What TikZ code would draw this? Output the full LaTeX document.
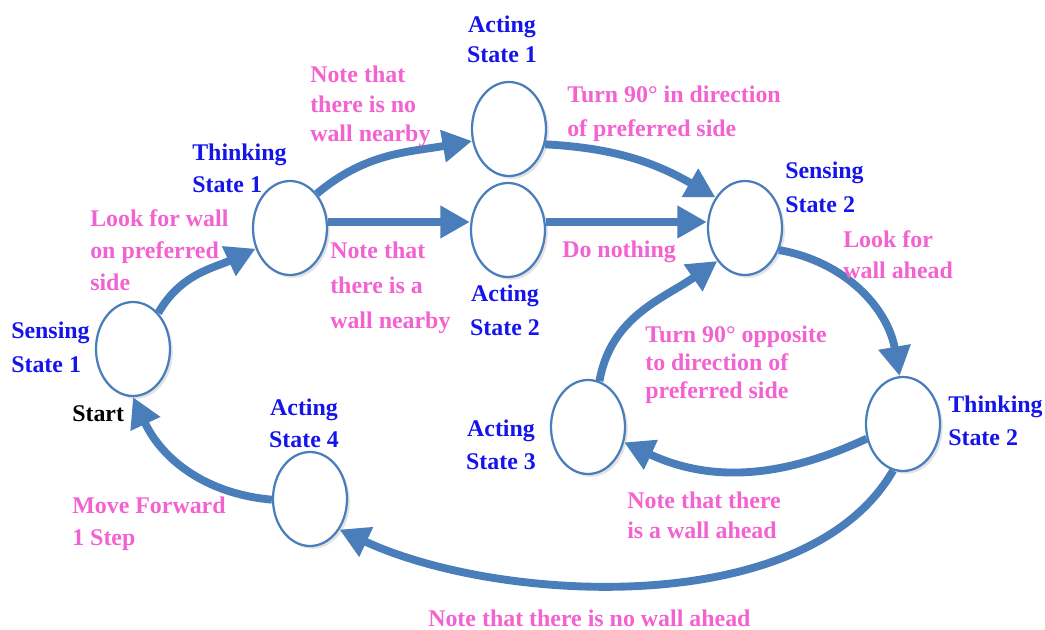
\documentclass[tikz,border=0pt]{standalone}
\usepackage{fontspec}
\setmainfont{Liberation Serif}
\usetikzlibrary{arrows.meta,shapes.geometric,shadows}

\definecolor{edgeblue}{RGB}{74,126,187}
\definecolor{stateblue}{RGB}{20,20,235}
\definecolor{notepink}{RGB}{242,98,208}

\tikzset{
  stnode/.style={ellipse, draw=edgeblue, line width=1.6pt, fill=white,
    minimum width=1.85cm, minimum height=2.35cm,
    drop shadow={opacity=0.22, shadow xshift=2pt, shadow yshift=-2pt}},
  flow/.style={draw=edgeblue, line width=5.6pt, -{Triangle[length=21pt,width=22pt]}},
  txt/.style={inner sep=0pt, align=left, anchor=base west,
    font=\bfseries\fontsize{17}{#1}\selectfont},
  txt/.default=23pt,
  stlabel/.style={txt=#1, text=stateblue},
  stlabel/.default=23pt,
  note/.style={txt=#1, text=notepink},
  note/.default=23pt
}

\begin{document}
\begin{tikzpicture}[x=0.025cm, y=0.025cm]
\useasboundingbox (0,0) rectangle (1045,-630);

% states
\node [stnode] (s1) at (133,-349) {};
\node [stnode] (t1) at (290,-228) {};
\node [stnode] (a1) at (509,-129) {};
\node [stnode] (a2) at (508,-230) {};
\node [stnode] (s2) at (745,-228) {};
\node [stnode] (t2) at (903,-424) {};
\node [stnode] (a3) at (588,-427) {};
\node [stnode] (a4) at (310,-499) {};

% transitions
\draw [flow] (s1.55) to [out=60, in=205] (t1.211);
\draw [flow] (t1.52) to [out=40, in=190] (a1.198);
\draw [flow] ([yshift=0.15cm]t1.east) -- ([yshift=0.2cm]a2.west);
\draw [flow] (a1.-23) to [out=-3, in=150] (s2.134);
\draw [flow] ([yshift=0.2cm]a2.east) -- ([yshift=0.15cm]s2.west);
\draw [flow] (s2.-33) to [out=-10, in=100] (t2.94);
\draw [flow] (t2.202) to [out=205, in=-25] (a3.-23);
\draw [flow] (a3.76) to [out=80, in=215] (s2.230);
\draw [flow] (t2.258) to [out=240, in=-25, looseness=0.8] (a4.-46);
\draw [flow] (a4.181) to [out=175, in=-65] (s1.270);

% state names (base = last line)
\node [stlabel=24pt] (s1name) at (11,-372) {Sensing\\State 1};
\node [txt] (start) at (72,-421) {Start};
\node [stlabel=23.4pt] (t1name) at (192,-193) {Thinking\\State 1};
\node [stlabel=22pt, align=center, anchor=base] (a1name) at (502,-63) {Acting\\State 1};
\node [stlabel=24pt] (s2name) at (785,-212) {Sensing\\State 2};
\node [stlabel=24pt, align=center, anchor=base] (a2name) at (505,-335) {Acting\\State 2};
\node [stlabel=23.4pt] (t2name) at (948,-445) {Thinking\\State 2};
\node [stlabel=23.4pt, align=center, anchor=base] (a3name) at (501,-469) {Acting\\State 3};
\node [stlabel=22.7pt, align=center, anchor=base] (a4name) at (304,-447) {Acting\\State 4};

% notes
\node [note=22.7pt] (lookside) at (90,-290) {Look for wall\\on preferred\\side};
\node [note=21.3pt] (nowall) at (310,-142) {Note that\\there is no\\wall nearby};
\node [note=24.5pt] (turnpref) at (567,-137) {Turn 90° in direction\\of preferred side};
\node [note=24.8pt] (wall) at (330,-328) {Note that\\there is a\\wall nearby};
\node [note] (nothing) at (562,-257) {Do nothing};
\node [note=22pt] (lookahead) at (843,-278) {Look for\\wall ahead};
\node [note=19.8pt] (turnopp) at (645,-398) {Turn 90° opposite\\to direction of\\preferred side};
\node [note=21.3pt] (wallahead) at (627,-538) {Note that there\\is a wall ahead};
\node [note=22.7pt] (move) at (72,-545) {Move Forward\\1 Step};
\node [note] (nowallahead) at (428,-626) {Note that there is no wall ahead};

\end{tikzpicture}
\end{document}
